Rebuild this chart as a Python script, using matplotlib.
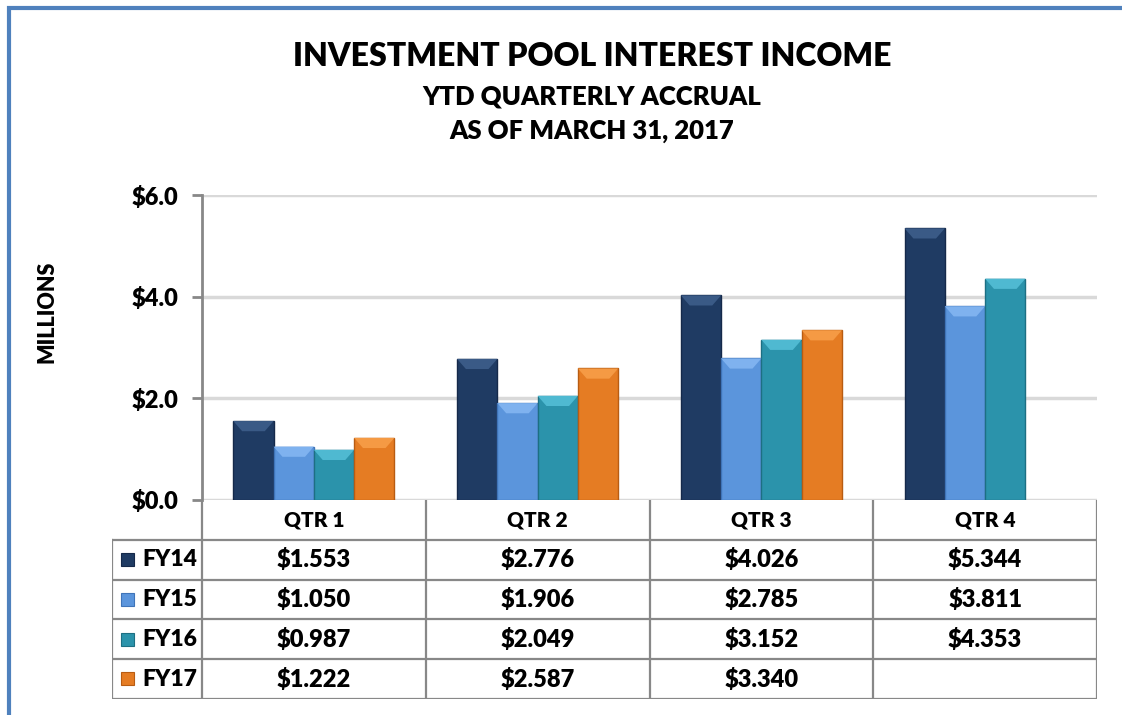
import numpy as np
import matplotlib.pyplot as plt
from matplotlib.patches import Rectangle, Polygon

plt.rcParams['font.family'] = ['Lato', 'DejaVu Sans']

quarters = ["QTR 1", "QTR 2", "QTR 3", "QTR 4"]
series = ["FY14", "FY15", "FY16", "FY17"]
fy14 = [1.553, 2.776, 4.026, 5.344]
fy15 = [1.050, 1.906, 2.785, 3.811]
fy16 = [0.987, 2.049, 3.152, 4.353]
fy17 = [1.222, 2.587, 3.340, None]
yticks = [0, 2, 4, 6]

colors = ["#1f3b63", "#5b95dc", "#2b93ab", "#e57c23"]
edges = ["#15294a", "#3f74b8", "#1d6f83", "#b85c12"]
tops = ["#3a5a86", "#7fb2ef", "#4fb9d1", "#f59a44"]
FW = "heavy"

W, H = 1122, 715
fig = plt.figure(figsize=(W / 100, H / 100), dpi=100)

def fx(px):
    return px / W

def fy(py):
    return 1 - py / H

# outer blue frame (only top/left visible)
fig.add_artist(Rectangle((fx(9), -0.2), 1.5, fy(8) + 0.2, transform=fig.transFigure,
                         fill=False, edgecolor="#4f81bd", lw=3, clip_on=False))

# ---- bar chart ----
ax = fig.add_axes([fx(202), fy(500), fx(1097) - fx(202), fy(195) - fy(500)])
x = np.arange(len(quarters))
bw = 0.18
data = [fy14, fy15, fy16, fy17]
for i, vals in enumerate(data):
    xs = [xi + (i - 1.5) * bw for xi, v in zip(x, vals) if v is not None]
    vs = [v for v in vals if v is not None]
    bars = ax.bar(xs, vs, width=bw, color=colors[i], edgecolor=edges[i], lw=1, zorder=3)
    # bevel highlight at the top of each bar
    for b in bars:
        x0, w, hgt = b.get_x(), b.get_width(), b.get_height()
        d, h = w * 0.22, 0.2
        ax.add_patch(Polygon([(x0, hgt), (x0 + w, hgt), (x0 + w - d, hgt - h),
                              (x0 + d, hgt - h)], closed=True, facecolor=tops[i],
                             edgecolor="none", zorder=4))

ax.set_xlim(-0.5, 3.5)
ax.set_ylim(0, 6)
ax.set_yticks(yticks)
ax.set_yticklabels([f"${t:.1f}" for t in yticks], fontsize=17, fontweight=FW)
ax.tick_params(axis="y", length=7, width=2, color="#888888", pad=10)
ax.set_xticks([])
ax.grid(axis="y", color="#d9d9d9", lw=2.5, zorder=0)
for s in ["top", "right", "bottom"]:
    ax.spines[s].set_visible(False)
ax.spines["left"].set_color("#888888")
ax.spines["left"].set_linewidth(2)

fig.text(fx(47), fy(312), "MILLIONS", rotation=90, ha="center", va="center",
         fontsize=15.5, fontweight=FW)

fig.text(fx(592), fy(57), "INVESTMENT POOL INTEREST INCOME", ha="center", va="center",
         fontsize=23, fontweight=FW)
fig.text(fx(592), fy(97), "YTD QUARTERLY ACCRUAL", ha="center", va="center",
         fontsize=18.5, fontweight=FW)
fig.text(fx(592), fy(131), "AS OF MARCH 31, 2017", ha="center", va="center",
         fontsize=18.5, fontweight=FW)

# ---- data table ----
colw = (1097 - 202) / 4
lab_w = 90 / colw
tx = fig.add_axes([fx(112), fy(699), fx(1097) - fx(112), fy(500) - fy(699)])
tx.set_xlim(-0.5 - lab_w, 3.5)
tx.set_ylim(0, 5)
tx.axis("off")
lc = "#888888"
for r in range(0, 5):
    tx.plot([-0.5 - lab_w, 3.5], [r, r], color=lc, lw=1.6, solid_capstyle="butt")
tx.plot([-0.5 - lab_w] * 2, [0, 4], color=lc, lw=1.6)
for c in np.arange(-0.5, 3.6, 1):
    tx.plot([c, c], [0, 5], color=lc, lw=1.6)

for j, q in enumerate(quarters):
    tx.text(j, 4.5, q, ha="center", va="center", fontsize=15, fontweight=FW)
for i, (name, vals) in enumerate(zip(series, data)):
    yrow = 3.5 - i
    sw = 13 / colw
    tx.add_patch(Rectangle((-0.5 - lab_w + 9 / colw, yrow - 0.16), sw, 0.33,
                           facecolor=colors[i], edgecolor=edges[i], lw=0.8))
    tx.text(-0.5 - lab_w + 30 / colw, yrow, name, ha="left", va="center",
            fontsize=16.5, fontweight=FW)
    for j, v in enumerate(vals):
        if v is not None:
            tx.text(j, yrow, f"${v:.3f}", ha="center", va="center",
                    fontsize=17, fontweight=FW)

fig.savefig("out.png", dpi=100)
